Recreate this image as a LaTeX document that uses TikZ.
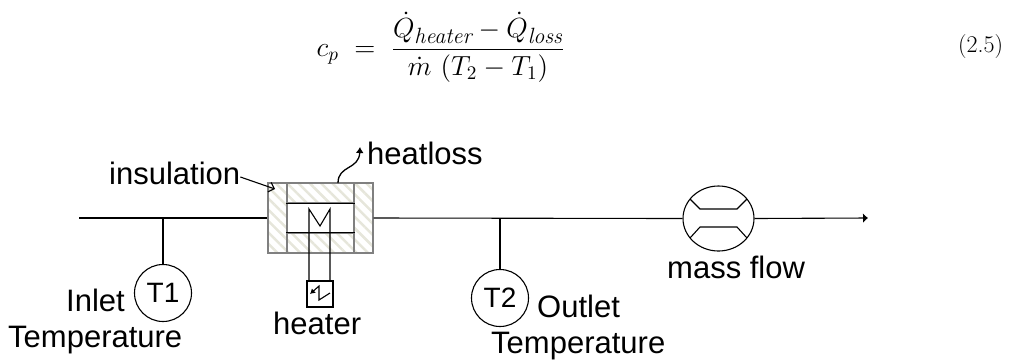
\documentclass[tikz,border=0pt]{standalone}
\usepackage{amsmath}
\usepackage{fontspec}
\setsansfont{Liberation Sans}
\usepackage{tikz}
\usetikzlibrary{positioning,arrows.meta,patterns.meta,shapes.geometric}

\newcommand{\subtxt}[1]{\mbox{\fontsize{11.5}{12}\selectfont\itshape #1}}

\begin{document}
\begin{tikzpicture}[x=1pt,y=-1pt,
    pipe/.style={line width=1.1pt},
    arrow/.style={-{Latex[length=5pt,width=10pt]}, line width=1.1pt},
    sensor/.style={draw, circle, line width=1.1pt, minimum size=57pt, inner sep=0pt, font=\sffamily\fontsize{28}{28}\selectfont},
    lbl/.style={inner sep=0pt, anchor=base west, font=\sffamily\fontsize{31}{31}\selectfont},
    hatched/.style={draw=black!50, line width=1.1pt, pattern={Lines[angle=-45,distance=8pt,line width=2.5pt]}, pattern color=yellow!30!black!14}
  ]
    \useasboundingbox (0,0) rectangle (1016,360);
    \node[inner sep=0pt, font=\Large, scale=1.92] (eqn) at (441,47) {$c_p \;=\; \dfrac{\dot{Q}_{\subtxt{heater}} - \dot{Q}_{\subtxt{loss}}}{\dot{m}\ (T_2 - T_1)}$};
    \node[inner sep=0pt, font=\fontsize{24}{24}\selectfont, anchor=west] (eqnum) at (958,47) {(2.5)};

    % insulation body
    \node[hatched, minimum width=19pt, minimum height=70pt, inner sep=0pt] (wallL) at (277.5,218) {};
    \node[hatched, minimum width=19pt, minimum height=70pt, inner sep=0pt] (wallR) at (363.5,218) {};
    \node[hatched, minimum width=67pt, minimum height=20pt, inner sep=0pt] (wallT) at (320.5,193) {};
    \node[hatched, minimum width=67pt, minimum height=20pt, inner sep=0pt] (wallB) at (320.5,243) {};
    \draw[pipe] (wallT.south west) -- (wallT.south east);
    \draw[pipe] (wallB.north west) -- (wallB.north east);

    % heater element
    \node[draw, line width=1.3pt, minimum width=26pt, minimum height=26pt, inner sep=0pt] (heatbox) at (320,294) {};
    \draw[pipe] (309,281) -- (309,209) -- (320,226) -- (330,209) -- (330,281);
    \draw[-{Latex[length=5pt,width=6pt]}, line width=1.1pt] (330,293) -- (319,300) -- (319,286) -- (310,294);

    % flow meter
    \node[draw, ellipse, line width=1.1pt, minimum width=71pt, minimum height=65pt, inner sep=0pt] (meter) at (718.5,218.5) {};
    \draw[pipe] (690,199) -- (700,209) -- (737,209) -- (747,199);
    \draw[pipe] (690,238) -- (700,227) -- (737,227) -- (747,238);

    % sensors
    \node[sensor] (t1) at (163,293) {T1};
    \node[sensor] (t2) at (500,298) {T2};
    \coordinate (start) at (79,218);
    \coordinate (tap1) at (163,218);
    \coordinate (tap2) at (500,218);
    \coordinate (end) at (868,218);

    \draw[pipe] (start) -- (wallL.west);
    \draw[pipe] (wallR.east) -- (meter.west);
    \draw[arrow] (meter.east) -- (end);
    \draw[pipe] (tap1) -- (t1.north);
    \draw[pipe] (tap2) -- (t2.north);

    % labels
    \node[lbl] (inlet) at (66,311) {Inlet};
    \node[lbl] (inlettemp) at (8,347) {Temperature};
    \node[lbl] (outlet) at (537,317) {Outlet};
    \node[lbl] (outlettemp) at (491,353) {Temperature};
    \node[lbl] (heaterlbl) at (273,334) {heater};
    \node[lbl] (massflow) at (667,278) {mass flow};
    \node[lbl] (insul) at (109,184) {insulation};
    \node[lbl] (heatloss) at (367,164) {heatloss};

    \draw[-{Straight Barb[length=5pt,width=10pt]}, line width=1.1pt] (insul.base east) ++(0,-7) -- (275,189);
    \coordinate (lossend) at (360,147);
    \draw[-{Latex[length=6pt,width=8pt]}, line width=1.3pt] (338,183) .. controls (338,165) and (359,170) .. (lossend);
  \end{tikzpicture}
\end{document}
